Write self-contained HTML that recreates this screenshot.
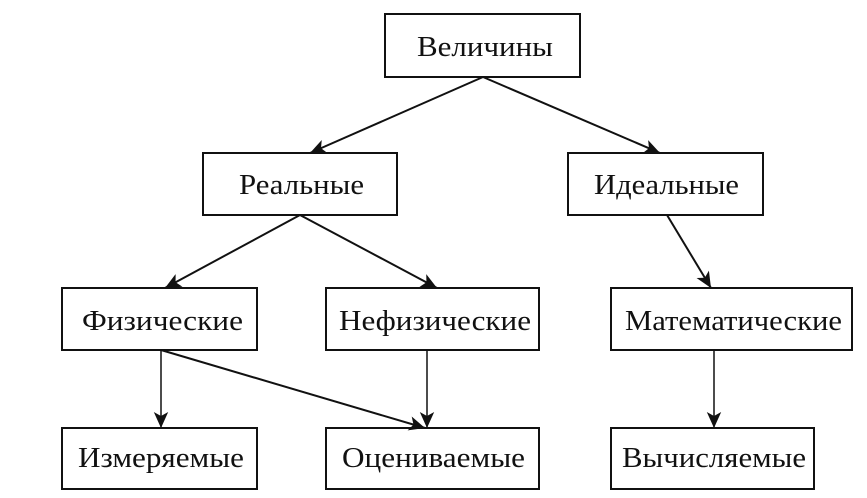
<!DOCTYPE html>
<html><head><meta charset="utf-8"><style>html,body{margin:0;padding:0;background:#fff}svg{display:block}</style></head>
<body>
<svg width="867" height="498" viewBox="0 0 867 498" xmlns="http://www.w3.org/2000/svg">
<defs>
<marker id="b" viewBox="0 0 10 10" refX="10" refY="5" markerWidth="16" markerHeight="16" orient="auto" markerUnits="userSpaceOnUse"><path d="M0,0.5 L10,5 L0,9.5 L2.5,5 z" fill="#111"/></marker></defs>
<g fill="#fff" stroke="#111" stroke-width="2">
<rect x="385" y="14" width="195" height="63"/>
<rect x="203" y="153" width="194" height="62"/>
<rect x="568" y="153" width="195" height="62"/>
<rect x="62" y="288" width="195" height="62"/>
<rect x="326" y="288" width="213" height="62"/>
<rect x="611" y="288" width="241" height="62"/>
<rect x="62" y="428" width="195" height="61"/>
<rect x="326" y="428" width="213" height="61"/>
<rect x="611" y="428" width="203" height="61"/>
</g>
<g stroke="#111" stroke-width="2" fill="none" marker-end="url(#b)">
<line x1="483" y1="77" x2="310" y2="153"/>
<line x1="483" y1="77" x2="660" y2="153"/>
<line x1="300" y1="215" x2="165" y2="288"/>
<line x1="300" y1="215" x2="437" y2="288"/>
<line x1="667" y1="215" x2="711" y2="288"/>
<line x1="161" y1="350" x2="161" y2="428" stroke-width="1.5"/>
<line x1="161" y1="350" x2="425" y2="428"/>
<line x1="427" y1="350" x2="427" y2="428" stroke-width="1.5"/>
<line x1="714" y1="350" x2="714" y2="428" stroke-width="1.5"/>
</g>
<g font-family="Liberation Serif, serif" font-size="29" fill="#111">
<text x="417" y="56" textLength="136" lengthAdjust="spacingAndGlyphs">Величины</text>
<text x="239" y="194" textLength="125" lengthAdjust="spacingAndGlyphs">Реальные</text>
<text x="594" y="194" textLength="145" lengthAdjust="spacingAndGlyphs">Идеальные</text>
<text x="82" y="330" textLength="161" lengthAdjust="spacingAndGlyphs">Физические</text>
<text x="339" y="330" textLength="192" lengthAdjust="spacingAndGlyphs">Нефизические</text>
<text x="625" y="330" textLength="217" lengthAdjust="spacingAndGlyphs">Математические</text>
<text x="78" y="467" textLength="166" lengthAdjust="spacingAndGlyphs">Измеряемые</text>
<text x="342" y="467" textLength="183" lengthAdjust="spacingAndGlyphs">Оцениваемые</text>
<text x="622" y="467" textLength="184" lengthAdjust="spacingAndGlyphs">Вычисляемые</text>
</g>
</svg>
</body></html>
